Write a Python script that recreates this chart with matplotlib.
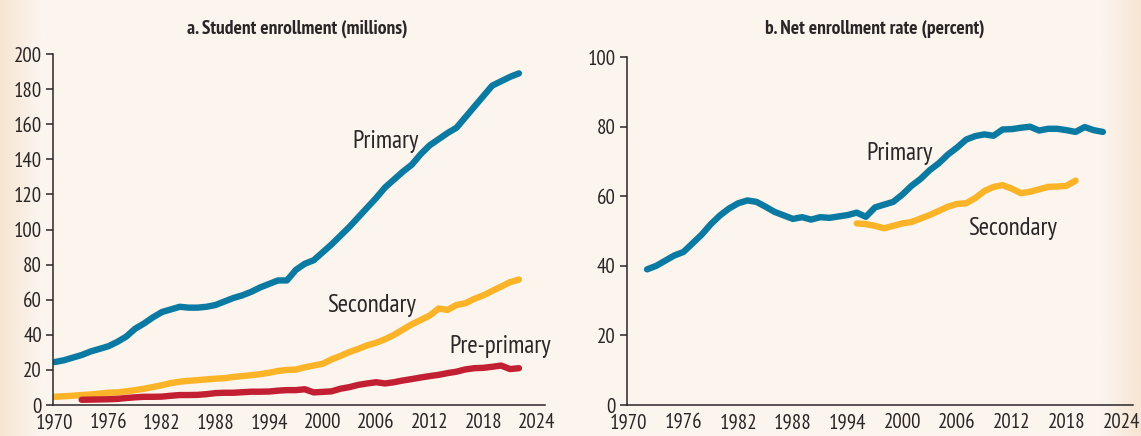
import matplotlib.pyplot as plt
import numpy as np
from matplotlib.colors import to_rgb

# enrollment, millions
years_a = list(range(1970, 2023))
primary_mn = [24.5, 25.5, 27, 28.5, 30.5, 32, 33.5, 36, 39, 43.5,
              46.5, 50, 53, 54.5, 56, 55.5, 55.5, 56, 57, 59,
              61, 62.5, 64.5, 67, 69, 71, 71, 77, 80.5, 82.5,
              87, 91.5, 96.5, 101.5, 107, 112.5, 118, 124, 128.5, 133,
              137, 143, 148, 151.5, 155, 158, 164, 170, 176, 182,
              184.5, 187, 189]
secondary_mn = [4.7, 5, 5.3, 5.7, 6, 6.5, 7, 7.2, 7.8, 8.5,
                9.3, 10.3, 11.3, 12.5, 13.3, 13.8, 14.2, 14.6, 15, 15.3,
                16, 16.5, 17, 17.6, 18.4, 19.4, 20, 20.2, 21.5, 22.5,
                23.5, 26, 28, 30.2, 32, 34, 35.5, 37.5, 40, 43,
                46, 48.5, 51, 55, 54.2, 57, 58, 60.5, 62.5, 65,
                67.5, 70, 71.5]
years_pre = list(range(1973, 2023))
preprimary_mn = [3, 3.1, 3.2, 3.3, 3.5, 4, 4.4, 4.7, 4.7, 4.8,
                 5.3, 5.7, 5.7, 5.8, 6.2, 6.8, 7, 7, 7.3, 7.6,
                 7.6, 7.7, 8.2, 8.5, 8.5, 9, 7.2, 7.5, 7.8, 9.3,
                 10.2, 11.5, 12.3, 13, 12.3, 13, 14, 14.8, 15.7, 16.5,
                 17.2, 18.2, 19, 20.3, 21, 21.2, 21.8, 22.5, 20.5, 21]

# net enrollment rate, percent
years_b1 = list(range(1972, 2023))
primary_ner = [39, 40, 41.5, 43, 44, 46.5, 49, 52, 54.5, 56.5,
               58, 58.8, 58.4, 57, 55.5, 54.5, 53.5, 54, 53.3, 54,
               53.8, 54.2, 54.6, 55.3, 54.1, 56.8, 57.6, 58.4, 60.5, 63,
               65, 67.5, 69.5, 72, 74, 76.3, 77.3, 77.8, 77.4, 79.2,
               79.3, 79.7, 80, 78.9, 79.4, 79.4, 79, 78.5, 79.9, 79,
               78.5]
years_b2 = list(range(1995, 2020))
secondary_ner = [52.2, 52, 51.5, 50.8, 51.5, 52.2, 52.6, 53.6, 54.6, 55.8,
                 57, 57.8, 58, 59.5, 61.5, 62.7, 63.2, 62.2, 60.9, 61.3,
                 62, 62.7, 62.8, 63, 64.5]

xticks = list(range(1970, 2025, 6))

BLUE = "#0a7aa2"
GOLD = "#fbb327"
RED = "#c21f32"
INK = "#2a2627"
BG = "#fcf5ee"
EDGE = "#f7e5d4"

plt.rcParams.update({
    "font.family": ["PT Sans Narrow", "Roboto Condensed", "DejaVu Sans"],
    "text.color": INK,
    "axes.edgecolor": INK,
    "xtick.color": INK,
    "ytick.color": INK,
})

fig = plt.figure(figsize=(11.41, 4.36), dpi=100)
fig.patch.set_facecolor(BG)

# soft peach fade at the left and right edges
bg = fig.add_axes([0, 0, 1, 1], zorder=-5)
t = np.linspace(0, 1, 600)
fade = np.clip(1 - t / 0.035, 0, 1) + np.clip((t - 0.965) / 0.035, 0, 1)
c0, c1 = np.array(to_rgb(BG)), np.array(to_rgb(EDGE))
img = c0[None, :] * (1 - fade[:, None]) + c1[None, :] * fade[:, None]
bg.imshow(img[None, :, :], aspect="auto", extent=[0, 1, 0, 1])
bg.axis("off")

ax1 = fig.add_axes([0.0465, 0.071, 0.431, 0.805])
ax2 = fig.add_axes([0.5495, 0.071, 0.4435, 0.798])

for ax, right in ((ax1, 2024.9), (ax2, 2025.3)):
    ax.set_facecolor("none")
    for s in ("top", "right"):
        ax.spines[s].set_visible(False)
    ax.spines["left"].set_linewidth(1.1)
    ax.spines["bottom"].set_linewidth(1.1)
    ax.set_xlim(1969.8, right)
    ax.set_xticks(xticks)
    ax.tick_params(axis="x", length=0, labelsize=15, pad=6)
    ax.tick_params(axis="y", length=5, width=1.1, labelsize=15, pad=3)

style = dict(lw=4.6, solid_capstyle="round", solid_joinstyle="round")
ax1.plot(years_a, primary_mn, color=BLUE, **style)
ax1.plot(years_a, secondary_mn, color=GOLD, **style)
ax1.plot(years_pre, preprimary_mn, color=RED, **style)
ax1.set_ylim(0, 200)
ax1.set_yticks(range(0, 201, 20))

lab = dict(fontsize=18, ha="center", va="baseline")
ax1.text(2007, 146.4, "Primary", **lab)
ax1.text(2005.5, 53.2, "Secondary", **lab)
ax1.text(2019.9, 29.6, "Pre-primary", **lab)

ax2.plot(years_b1, primary_ner, color=BLUE, **style)
ax2.plot(years_b2, secondary_ner, color=GOLD, **style)
ax2.set_ylim(0, 100)
ax2.set_yticks(range(0, 101, 20))
ax2.text(1999.7, 70.4, "Primary", **lab)
ax2.text(2012.05, 48.9, "Secondary", **lab)

fig.text(297 / 1141, 0.933, "a. Student enrollment (millions)",
         fontsize=14, fontweight="bold", ha="center", va="center")
fig.text(875 / 1141, 0.933, "b. Net enrollment rate (percent)",
         fontsize=14, fontweight="bold", ha="center", va="center")

fig.savefig("out.png", dpi=100, facecolor=BG)
